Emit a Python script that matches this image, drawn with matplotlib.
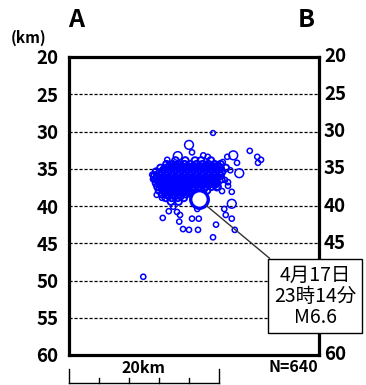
import matplotlib
matplotlib.use('Agg')
import matplotlib.pyplot as plt

plt.rcParams['font.family'] = ['Noto Sans CJK JP', 'DejaVu Sans']

# depth ticks (km)
depth_ticks = [20, 25, 30, 35, 40, 45, 50, 55, 60]
grid_depths = [25, 30, 35, 40, 45, 50, 55]
right_ticks = [20, 25, 30, 35, 40, 45, 60]   # 50 and 55 sit behind the label box

# dense core of the aftershock cloud: (depth, list of distances along A-B in km)
core_rows = [
    (33.9, [14.2, 15.5, 16.8, 17.6, 18.9]),
    (34.4, [13.0, 13.8, 14.6, 15.4, 16.2, 17.0, 17.8, 18.6, 19.4, 20.2]),
    (34.9, [12.2, 13.0, 13.8, 14.6, 15.4, 16.2, 17.0, 17.8, 18.6, 19.4, 20.2, 20.9]),
    (35.4, [11.6, 12.4, 13.2, 14.0, 14.8, 15.6, 16.4, 17.2, 18.0, 18.8, 19.6, 20.4]),
    (35.9, [11.4, 12.2, 13.0, 13.8, 14.6, 15.4, 16.2, 17.0, 17.8, 18.6, 19.4, 20.2]),
    (36.4, [11.5, 12.3, 13.1, 13.9, 14.7, 15.5, 16.3, 17.1, 17.9, 18.7, 19.5, 20.3]),
    (36.9, [11.6, 12.4, 13.2, 14.0, 14.8, 15.6, 16.4, 17.2, 18.0, 18.8, 19.6]),
    (37.4, [11.8, 12.6, 13.4, 14.2, 15.0, 15.8, 16.6, 17.4, 18.2, 19.0, 19.8]),
    (37.9, [12.0, 12.8, 13.6, 14.4, 15.2, 16.0, 16.8, 17.6, 18.4]),
    (38.4, [12.4, 13.2, 14.0, 14.8, 15.6, 16.4]),
    (38.9, [12.9, 13.7, 14.5, 15.3]),
    (39.4, [13.6, 14.6]),
]
# second, offset layer that fills the gaps in the core
core_fill = [
    (34.65, [13.4, 14.2, 15.0, 15.8, 16.6, 17.4, 18.2, 19.0, 19.8]),
    (35.15, [12.6, 13.4, 14.2, 15.0, 15.8, 16.6, 17.4, 18.2, 19.0, 19.8]),
    (35.65, [12.0, 12.8, 13.6, 14.4, 15.2, 16.0, 16.8, 17.6, 18.4, 19.2, 20.0]),
    (36.15, [11.8, 12.6, 13.4, 14.2, 15.0, 15.8, 16.6, 17.4, 18.2, 19.0, 19.8]),
    (36.65, [12.0, 12.8, 13.6, 14.4, 15.2, 16.0, 16.8, 17.6, 18.4, 19.2]),
    (37.15, [12.2, 13.0, 13.8, 14.6, 15.4, 16.2, 17.0, 17.8, 18.6, 19.4]),
    (37.65, [12.4, 13.2, 14.0, 14.8, 15.6, 16.4, 17.2, 18.0]),
    (38.15, [12.8, 13.6, 14.4, 15.2, 16.0]),
    (38.65, [13.3, 14.1, 14.9]),
]

# scattered events around the core
out_x = [19.2, 16.0, 16.4, 14.5, 13.1, 21.9, 24.1, 25.1, 25.6, 25.2, 22.4, 21.1,
         20.5, 17.9, 18.5, 21.5, 22.7, 20.8, 21.2, 19.7, 20.4, 21.7, 21.2, 21.7,
         20.7, 20.9, 21.7, 22.1, 19.6, 19.2, 17.3, 16.4, 14.7, 12.5, 15.2, 16.0,
         17.2, 13.9, 13.3, 14.4, 17.1, 11.1, 11.2, 11.7, 12.4, 19.5, 19.9, 9.9,
         14.8]
out_depth = [30.2, 31.8, 32.8, 33.3, 33.8, 33.2, 32.6, 33.4, 33.8, 34.2, 34.2, 33.4,
             34.1, 33.2, 33.4, 35.2, 35.6, 36.5, 36.8, 37.6, 38.0, 38.1, 37.3, 39.7,
             40.4, 41.2, 41.7, 43.2, 42.5, 44.2, 41.7, 41.7, 42.1, 41.6, 43.1, 43.2,
             43.2, 40.1, 40.7, 40.8, 40.4, 35.8, 36.4, 38.5, 38.9, 35.8, 36.9, 49.5,
             41.2]
out_size = [12, 40, 14, 40, 14, 40, 14, 14, 14, 14, 14, 14,
            14, 14, 14, 14, 40, 14, 14, 14, 14, 14, 14, 40,
            14, 14, 14, 14, 14, 14, 14, 14, 14, 14, 14, 14,
            14, 14, 14, 14, 14, 14, 14, 14, 14, 14, 14, 14,
            14]

# mainshock
main_x = 17.3
main_depth = 39.1
main_label = '4月17日\n23時14分\nM6.6'
n_label = 'N=640'

fig = plt.figure(figsize=(3.66, 3.85), dpi=100)
ax = fig.add_axes([69 / 366, 30 / 385, 250 / 366, 298 / 385])

for d in grid_depths:
    ax.axhline(d, color='black', lw=0.9, ls=(0, (2.5, 1.5)), zorder=1)

core_x = [x for d, xs in core_rows + core_fill for x in xs]
core_d = [d for d, xs in core_rows + core_fill for x in xs]
ax.scatter(core_x, core_d, s=24, facecolors='none', edgecolors='#0000ff',
           linewidths=1.4, zorder=3)
ax.scatter(out_x, out_depth, s=out_size, facecolors='none', edgecolors='#0000ff',
           linewidths=1.1, zorder=3)
ax.scatter([main_x], [main_depth], s=160, facecolors='white', edgecolors='#0000ff',
           linewidths=2.4, zorder=4)

ax.annotate(main_label, xy=(main_x, main_depth), xytext=(32.8, 52.1),
            ha='center', va='center', fontsize=14, linespacing=1.0,
            annotation_clip=False, zorder=10,
            bbox=dict(boxstyle='square,pad=0.3', fc='white', ec='black', lw=1.0),
            arrowprops=dict(arrowstyle='-', color='#333333', lw=1.0,
                            shrinkA=0, shrinkB=7))

ax.set_xlim(0, 33.33)
ax.set_ylim(60, 20)
ax.set_xticks([])
ax.set_yticks(depth_ticks)
ax.tick_params(axis='y', left=False, right=False, labelleft=True, labelright=False,
               labelsize=13.5, pad=4)
for lab in ax.get_yticklabels():
    lab.set_fontweight('bold')
for d in right_ticks:
    ax.text(34.0, d, str(d), ha='left', va='center', fontsize=13.5,
            fontweight='bold', clip_on=False)
for sp in ax.spines.values():
    sp.set_linewidth(2.3)

# scale bar below the section
ax.plot([0, 20], [63.8, 63.8], color='black', lw=1.0, clip_on=False)
for xk in [0, 20]:
    ax.plot([xk, xk], [61.9, 63.8], color='black', lw=1.0, clip_on=False)
for xk in [4, 8, 12, 16]:
    ax.plot([xk, xk], [63.1, 63.8], color='black', lw=1.0, clip_on=False)
ax.text(9.9, 61.7, '20km', ha='center', va='center', fontsize=11.5, fontweight='bold')
ax.text(33.2, 61.6, n_label, ha='right', va='center', fontsize=11.5, fontweight='bold')

fig.text(76 / 366, 1 - 20 / 385, 'A', ha='center', va='center', fontsize=18, fontweight='bold')
fig.text(306 / 366, 1 - 20 / 385, 'B', ha='center', va='center', fontsize=18, fontweight='bold')
fig.text(29 / 366, 1 - 38 / 385, '(km)', ha='center', va='center', fontsize=11, fontweight='bold')

fig.savefig('out.png', dpi=100)
